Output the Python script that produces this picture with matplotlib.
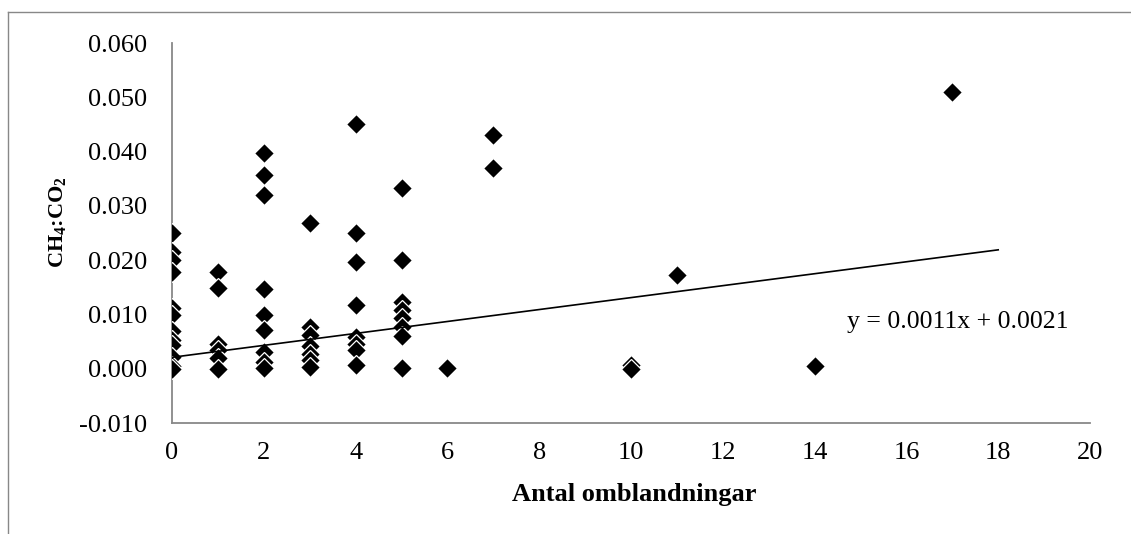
import matplotlib
matplotlib.use("Agg")
import matplotlib.pyplot as plt
from matplotlib.lines import Line2D
import numpy as np

plt.rcParams['font.family'] = ['Liberation Serif', 'DejaVu Serif']
plt.rcParams['mathtext.fontset'] = 'custom'
plt.rcParams['mathtext.rm'] = 'Liberation Serif'
plt.rcParams['mathtext.bf'] = 'Liberation Serif:bold'
plt.rcParams['mathtext.it'] = 'Liberation Serif:italic'

# Data: number of mixings vs CH4:CO2 ratio
x_mix = [0, 0, 0, 0, 0, 0, 0, 0, 0, 0, 0, 0,
         1, 1, 1, 1, 1, 1,
         2, 2, 2, 2, 2, 2, 2, 2, 2,
         3, 3, 3, 3, 3, 3, 3,
         4, 4, 4, 4, 4, 4, 4, 4,
         5, 5, 5, 5, 5, 5, 5, 5,
         6, 7, 7, 10, 10, 11, 14, 17]
y_ratio = [0.0250, 0.0215, 0.0200, 0.0179, 0.0112, 0.0099, 0.0070, 0.0052, 0.0043, 0.0022, 0.0005, 0.0000,
           0.0179, 0.0148, 0.0046, 0.0034, 0.0020, 0.0000,
           0.0397, 0.0356, 0.0320, 0.0146, 0.0099, 0.0071, 0.0031, 0.0013, 0.0001,
           0.0268, 0.0077, 0.0062, 0.0041, 0.0028, 0.0016, 0.0004,
           0.0450, 0.0250, 0.0196, 0.0118, 0.0058, 0.0046, 0.0034, 0.0006,
           0.0332, 0.0200, 0.0123, 0.0108, 0.0093, 0.0077, 0.0060, 0.0001,
           0.0001, 0.0430, 0.0370, 0.0007, 0.0000, 0.0172, 0.0005, 0.0510]

slope = 0.0011
intercept = 0.0021
trend_x = [0, 18]
equation = "y = 0.0011x + 0.0021"

x_ticks = list(range(0, 21, 2))
y_ticks = [-0.010, 0.000, 0.010, 0.020, 0.030, 0.040, 0.050, 0.060]

W, H = 1131, 534
fig = plt.figure(figsize=(W/100, H/100), dpi=100)
ax = fig.add_axes([172/W, 1-423/H, (1090-172)/W, (423-43)/H])

ax.plot(x_mix, y_ratio, linestyle='none', marker='D', markersize=10,
        markerfacecolor='black', markeredgecolor='white', markeredgewidth=0.9, zorder=3)

tx = np.array(trend_x, dtype=float)
ax.plot(tx, slope*tx + intercept, color='black', linewidth=1.2, zorder=4)

ax.text(14.7, 0.0086, equation, fontsize=18.5, va='center', ha='left')

ax.set_xlim(0, 20)
ax.set_ylim(-0.010, 0.060)
ax.set_xticks(x_ticks)
ax.set_yticks(y_ticks)
ax.set_yticklabels([f"{v:.3f}" for v in y_ticks])
ax.tick_params(length=0, labelsize=19)
ax.tick_params(axis='x', pad=14)
ax.tick_params(axis='y', pad=18)

for s in ['top', 'right']:
    ax.spines[s].set_visible(False)
for s in ['left', 'bottom']:
    ax.spines[s].set_color('#888888')
    ax.spines[s].set_linewidth(1.3)

fig.text(634/W, 1-495/H, "Antal omblandningar", fontsize=19, fontweight='bold',
         ha='center', va='center')
fig.text(58/W, 1-222/H, r"CH$\mathbf{_4}$:CO$\mathbf{_2}$", fontsize=16, fontweight='bold',
         rotation=90, ha='center', va='center')

# chart border (top and left visible)
fig.add_artist(Line2D([8/W, 8/W], [0, 1-12/H], transform=fig.transFigure,
                      color='#888888', linewidth=1.0))
fig.add_artist(Line2D([8/W, 1], [1-12/H, 1-12/H], transform=fig.transFigure,
                      color='#888888', linewidth=1.0))

fig.savefig("out.png", dpi=100)
